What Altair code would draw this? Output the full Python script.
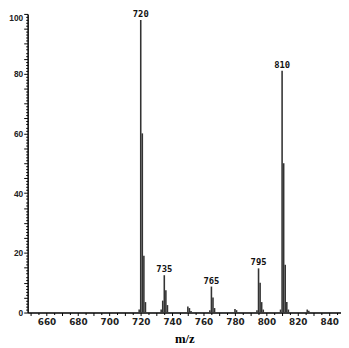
import altair as alt
import pandas as pd

mz = [719, 720, 721, 722, 723, 733, 734, 735, 736, 737, 750, 751, 752,
      764, 765, 766, 767, 780, 781, 794, 795, 796, 797, 798,
      809, 810, 811, 812, 813, 814, 826, 827]
intensity = [1.0, 98, 60, 19, 3.5, 1.0, 4, 12.5, 7.5, 2.5, 2.0, 1.5, 0.5,
             0.8, 8.7, 5, 1.5, 1.2, 0.8, 0.8, 14.8, 10, 3.5, 1.0,
             1.0, 81, 50, 16, 3.5, 1.0, 1.0, 0.6]
label_mz = [720, 735, 765, 795, 810]
label_int = [98, 12.5, 8.7, 14.8, 81]

df = pd.DataFrame({"mz": mz, "intensity": intensity})
lab = pd.DataFrame({"mz": label_mz, "intensity": label_int, "text": [str(v) for v in label_mz]})

xscale = alt.Scale(domain=[648, 847.5], nice=False, zero=False)
yscale = alt.Scale(domain=[0, 100], nice=False)

x_ticks = list(range(650, 846, 5))
y_ticks = list(range(0, 101, 1))

x_axis = alt.Axis(values=x_ticks, title="m/z", labelOverlap=False,
                  labelExpr="datum.value % 20 == 0 ? datum.label : ''",
                  grid=False, ticks=True, tickWidth=1, tickColor="black",
                  tickSize={"condition": {"test": "datum.value % 10 == 0", "value": 3}, "value": 2},
                  domainColor="black", domainWidth=1.5,
                  labelFont="DejaVu Sans", labelFontSize=9, labelFontWeight="bold",
                  labelColor="#222", labelPadding=2,
                  titleFont="Liberation Serif", titleFontSize=13, titleFontWeight="bold",
                  titlePadding=6, titleColor="black")
y_axis = alt.Axis(values=y_ticks, title=None, labelOverlap=False,
                  labelExpr="datum.value % 20 == 0 ? datum.label : ''",
                  grid=False, ticks=True, tickWidth=1, tickColor="black",
                  tickSize={"condition": {"test": "datum.value % 5 == 0", "value": 4}, "value": 2},
                  labelBaseline={"condition": {"test": "datum.value == 100", "value": "top"},
                                 "value": "middle"},
                  domainColor="black", domainWidth=1.5,
                  labelFont="Liberation Sans", labelFontSize=8.5, labelFontWeight="bold",
                  labelColor="#222", labelPadding=1)

bars = alt.Chart(df).mark_rule(color="#333333", strokeWidth=1.6).encode(
    x=alt.X("mz:Q", scale=xscale, axis=x_axis),
    y=alt.Y("intensity:Q", scale=yscale, axis=y_axis),
    y2=alt.Y2(datum=0),
)

texts = alt.Chart(lab).mark_text(dy=-1, baseline="bottom", fontSize=9, fontWeight="bold",
                                 font="DejaVu Sans Mono", color="#111").encode(
    x=alt.X("mz:Q", scale=xscale, axis=x_axis),
    y=alt.Y("intensity:Q", scale=yscale, axis=y_axis),
    text="text:N",
)

chart = (bars + texts).properties(
    width=319, height=304,
    autosize=alt.AutoSizeParams(type="none"),
    padding={"left": 20, "top": 3, "right": 0, "bottom": 30},
).configure_view(stroke=None)

chart.save("out.html", embed_options={"renderer": "svg", "actions": False})
